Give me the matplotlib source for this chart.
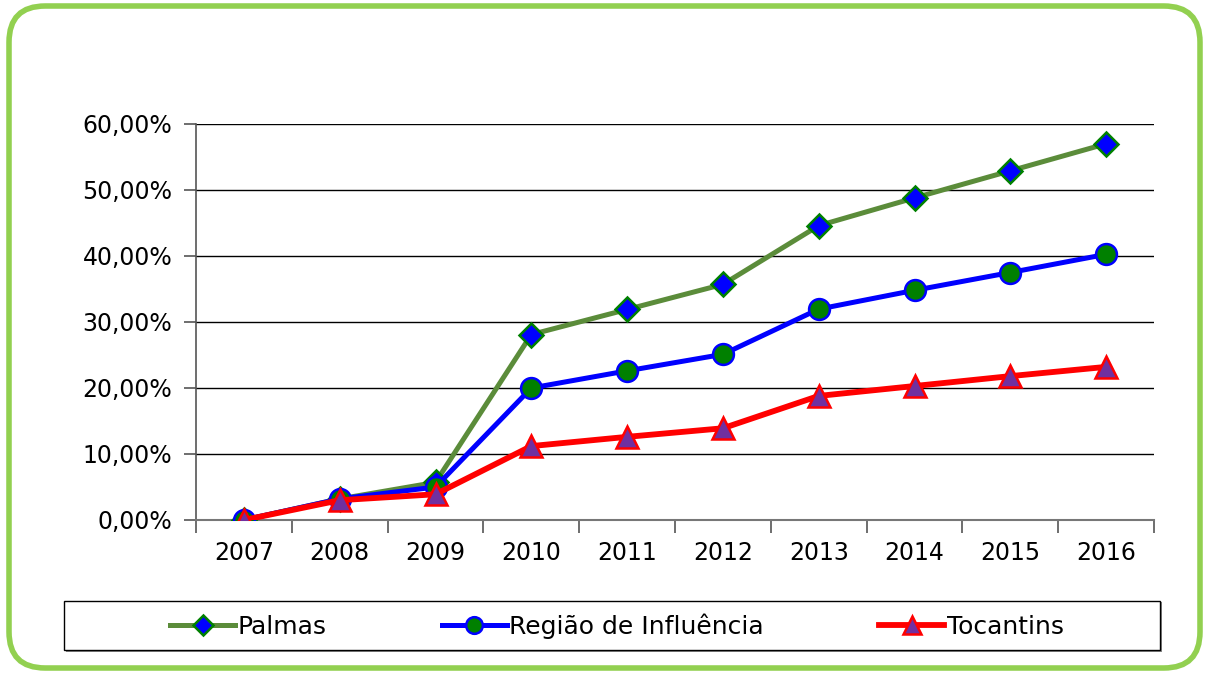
import matplotlib
matplotlib.use("Agg")
import matplotlib.pyplot as plt
from matplotlib.patches import FancyBboxPatch, Rectangle
from matplotlib.ticker import FuncFormatter, FixedLocator

years = ["2007", "2008", "2009", "2010", "2011", "2012", "2013", "2014", "2015", "2016"]
palmas = [0.0, 3.2, 5.7, 28.1, 31.9, 35.7, 44.6, 48.8, 52.9, 57.0]
regiao = [0.0, 3.2, 5.0, 20.0, 22.6, 25.1, 31.95, 34.8, 37.5, 40.25]
tocantins = [0.0, 3.0, 3.9, 11.2, 12.6, 13.9, 18.8, 20.3, 21.8, 23.2]
series_names = ["Palmas", "Região de Influência", "Tocantins"]
yticks = [0, 10, 20, 30, 40, 50, 60]

plt.rcParams['font.family'] = ['DejaVu Sans']
W, H = 1207, 677
fig = plt.figure(figsize=(W / 100, H / 100), dpi=100)

# rounded green frame
frame = FancyBboxPatch((9 / W, 9 / H), (W - 16) / W, (H - 15) / H,
                       boxstyle="round,pad=0,rounding_size=0.03",
                       transform=fig.transFigure, facecolor="none",
                       edgecolor="#92D050", linewidth=4, zorder=-2,
                       mutation_aspect=W / H)
fig.patches.append(frame)

ax = fig.add_axes([196 / W, 1 - 520 / H, (1154 - 196) / W, (520 - 124) / H])
ax.set_facecolor("none")
x = list(range(len(years)))

ax.plot(x, palmas, color="#5B8C3A", lw=3.6, marker="D", ms=12.5,
        mfc="#0000FF", mec="#008000", mew=1.8, zorder=3, label=series_names[0])
ax.plot(x, regiao, color="#0000FF", lw=3.6, marker="o", ms=15,
        mfc="#008000", mec="#0000FF", mew=1.8, zorder=4, label=series_names[1])
ax.plot(x, tocantins, color="#FF0000", lw=4.2, marker="^", ms=16,
        mfc="#7030A0", mec="#FF0000", mew=1.8, zorder=5, label=series_names[2])

ax.set_xlim(-0.5, len(years) - 0.5)
ax.set_ylim(0, 60)
ax.set_yticks(yticks)
ax.yaxis.set_major_formatter(FuncFormatter(lambda v, p: f"{v:.2f}".replace(".", ",") + "%"))
ax.grid(axis="y", color="black", lw=1.0, zorder=1)
ax.set_axisbelow(True)

ax.set_xticks(x)
ax.set_xticklabels(years)
ax.xaxis.set_minor_locator(FixedLocator([i - 0.5 for i in range(len(years) + 1)]))
ax.tick_params(axis="x", which="major", length=0, pad=15, labelsize=17)
ax.tick_params(axis="x", which="minor", length=9, width=1.2, color="#555555", direction="out")
ax.tick_params(axis="y", which="major", length=9, width=1.2, color="#555555", direction="out",
               pad=8, labelsize=17)

for s in ["top", "right"]:
    ax.spines[s].set_visible(False)
ax.spines["left"].set_color("#555555")
ax.spines["left"].set_linewidth(1.2)
ax.spines["bottom"].set_color("#777777")
ax.spines["bottom"].set_linewidth(1.5)

# legend box
fig.patches.append(Rectangle((66 / W, 1 - 652 / H), (1162 - 66) / W, 50 / H,
                             transform=fig.transFigure, facecolor="#888888",
                             edgecolor="none", zorder=-1))
fig.patches.append(Rectangle((64 / W, 1 - 650 / H), (1160 - 64) / W, 49 / H,
                             transform=fig.transFigure, facecolor="white",
                             edgecolor="black", lw=1.0, zorder=-1))
leg = fig.legend(loc="center", bbox_to_anchor=(617 / W, 1 - 626 / H), ncol=3,
                 frameon=False, fontsize=18, handlelength=2.6, handletextpad=0.1,
                 columnspacing=4.6, markerscale=0.8)

fig.savefig("out.png", dpi=100)
